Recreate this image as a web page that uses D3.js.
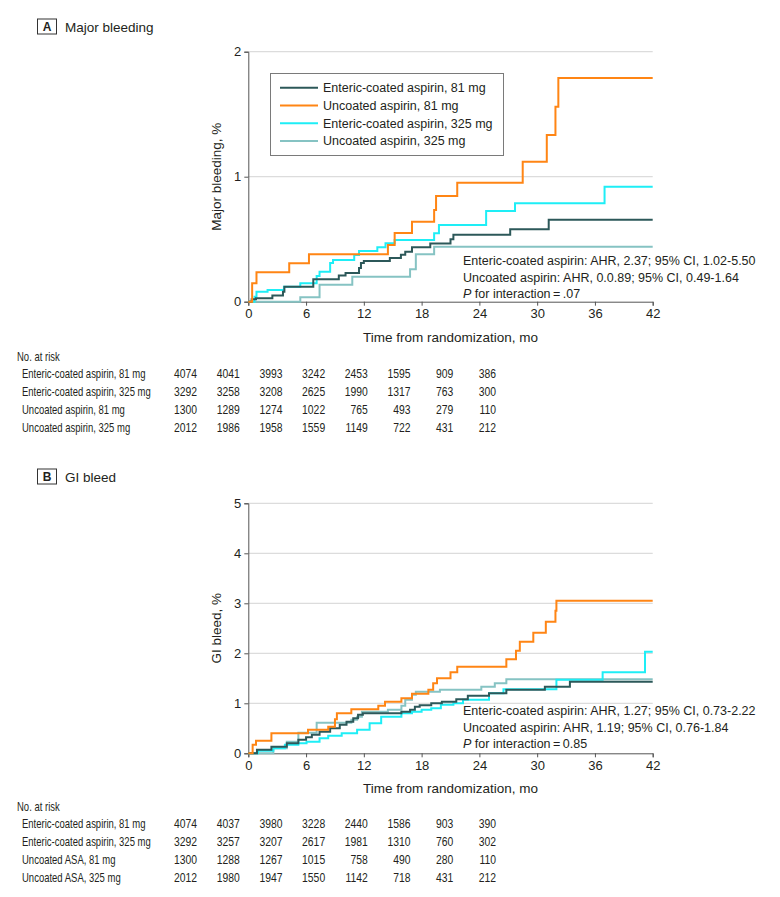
<!DOCTYPE html>
<html>
<head>
<meta charset="utf-8">
<script src="https://cdn.jsdelivr.net/npm/d3@7"></script>
<style>
  html, body { margin: 0; padding: 0; background: #fff; }
  svg { display: block; }
</style>
</head>
<body>
<div id="chart"></div>
<script>
// Aspirin formulation: cumulative incidence of bleeding (D3)

const months = [0, 6, 12, 18, 24, 30, 36, 42];
const seriesNames = ['Enteric-coated aspirin, 81 mg', 'Uncoated aspirin, 81 mg',
  'Enteric-coated aspirin, 325 mg', 'Uncoated aspirin, 325 mg'];
const seriesColors = ['#2c5859', '#ff8514', '#1eeef6', '#86c3c3'];

// Panel A: major bleeding, [month, %]
const majorEc81 = [[0,0],[0.35,0.02],[0.8,0.027],[2.5,0.05],[3.6,0.08],[3.75,0.12],[6.75,0.18],[9.4,0.21],[10.1,0.23],[11.5,0.27],[11.7,0.31],[12.0,0.325],[14.7,0.35],[15.85,0.375],[16.3,0.4],[17.0,0.435],[18.9,0.465],[21.0,0.5],[21.3,0.535],[27.2,0.58],[31.2,0.655],[42,0.655]];
const majorUc81 = [[0,0],[0.4,0.147],[0.85,0.235],[4.25,0.307],[6.3,0.38],[14.5,0.453],[15.2,0.55],[17.0,0.64],[19.3,0.733],[19.5,0.845],[21.7,0.952],[28.5,1.12],[31.0,1.333],[31.9,1.56],[32.2,1.79],[42,1.79]];
const majorEc325 = [[0,0],[0.65,0.04],[0.85,0.08],[2.0,0.093],[3.7,0.12],[5.4,0.147],[7.1,0.205],[7.4,0.24],[8.5,0.31],[8.8,0.333],[11.0,0.373],[11.5,0.405],[13.4,0.435],[14.25,0.467],[15.2,0.493],[19.3,0.547],[19.8,0.613],[24.7,0.725],[27.7,0.787],[37.0,0.92],[42,0.92]];
const majorUc325 = [[0,0],[5.4,0.035],[7.4,0.135],[10.8,0.2],[16.8,0.26],[17.4,0.38],[19.3,0.44],[42,0.44]];

// Panel B: GI bleed, [month, %]
const giEc81 = [[0,0],[0.9,0.07],[2.4,0.13],[4.0,0.2],[5.2,0.27],[6.0,0.32],[6.6,0.37],[7.4,0.43],[8.5,0.5],[9.5,0.57],[10.2,0.63],[10.9,0.7],[11.4,0.77],[11.9,0.8],[15.9,0.83],[16.8,0.87],[17.3,0.93],[17.8,0.96],[19.0,1.0],[20.1,1.03],[21.6,1.08],[22.8,1.15],[25.0,1.2],[26.8,1.27],[30.8,1.33],[33.4,1.43],[42,1.43]];
const giUc81 = [[0,0],[0.45,0.17],[0.8,0.25],[2.4,0.4],[6.2,0.47],[8.3,0.53],[9.0,0.68],[9.2,0.8],[10.7,0.88],[13.5,0.95],[14.2,1.03],[15.9,1.1],[17.0,1.19],[18.7,1.27],[19.2,1.4],[19.6,1.5],[21.0,1.62],[21.7,1.73],[26.8,1.88],[27.8,2.05],[28.2,2.23],[29.6,2.41],[30.9,2.63],[31.9,2.85],[32.0,3.05],[42,3.05]];
const giEc325 = [[0,0],[1.0,0.05],[2.6,0.1],[3.8,0.17],[5.2,0.2],[6.05,0.23],[7.4,0.3],[8.3,0.35],[9.7,0.4],[11.3,0.47],[12.6,0.6],[13.8,0.73],[15.9,0.8],[17.0,0.83],[18.0,0.87],[19.0,0.9],[20.0,0.97],[21.3,1.0],[22.3,1.07],[25.0,1.2],[26.5,1.28],[32.0,1.47],[36.8,1.62],[41.2,2.03],[42,2.03]];
const giUc325 = [[0,0],[2.6,0.1],[4.0,0.23],[5.2,0.41],[7.1,0.61],[10.7,0.67],[11.3,0.73],[11.8,0.83],[14.5,0.87],[15.9,0.95],[16.3,1.07],[17.0,1.17],[17.4,1.23],[19.9,1.27],[24.2,1.33],[25.6,1.4],[26.8,1.48],[42,1.48]];

// Numbers at risk
const riskLabelsA = ['Enteric-coated aspirin, 81 mg', 'Enteric-coated aspirin, 325 mg', 'Uncoated aspirin, 81 mg', 'Uncoated aspirin, 325 mg'];
const riskA = [
  [4074, 4041, 3993, 3242, 2453, 1595, 909, 386],
  [3292, 3258, 3208, 2625, 1990, 1317, 763, 300],
  [1300, 1289, 1274, 1022, 765, 493, 279, 110],
  [2012, 1986, 1958, 1559, 1149, 722, 431, 212]
];
const riskLabelsB = ['Enteric-coated aspirin, 81 mg', 'Enteric-coated aspirin, 325 mg', 'Uncoated ASA, 81 mg', 'Uncoated ASA, 325 mg'];
const riskB = [
  [4074, 4037, 3980, 3228, 2440, 1586, 903, 390],
  [3292, 3257, 3207, 2617, 1981, 1310, 760, 302],
  [1300, 1288, 1267, 1015, 758, 490, 280, 110],
  [2012, 1980, 1947, 1550, 1142, 718, 431, 212]
];

const statsA = ['Enteric-coated aspirin: AHR, 2.37; 95% CI, 1.02-5.50', 'Uncoated aspirin: AHR, 0.0.89; 95% CI, 0.49-1.64', '.07'];
const statsB = ['Enteric-coated aspirin: AHR, 1.27; 95% CI, 0.73-2.22', 'Uncoated aspirin: AHR, 1.19; 95% CI, 0.76-1.84', '0.85'];

const FONT = "'Liberation Sans', Arial, sans-serif";
const TEXT = '#231f20';
const AXIS = '#555';

const W = 780, H = 897;
const svg = d3.select('#chart').append('svg').attr('width', W).attr('height', H);

const x = d3.scaleLinear().domain([0, 42]).range([248.3, 652.7]);
const col = d3.scalePoint().domain(months).range([197, 496]);

// table in the original is set in a condensed face; none is installed,
// so squeeze horizontally with a transform
const LABEL_SQUEEZE = 0.76, NUM_SQUEEZE = 0.83;

function drawPanel(cfg) {
  const g = svg.append('g');
  const y = d3.scaleLinear().domain([0, cfg.yMax]).range([cfg.y0, cfg.yTop]);
  const yTicks = d3.range(0, cfg.yMax + 1);

  // panel letter + title
  g.append('rect').attr('x', 37.5).attr('y', cfg.titleY - 7.5).attr('width', 19).attr('height', 15)
    .attr('fill', '#fff').attr('stroke', '#333').attr('stroke-width', 1);
  g.append('text').attr('x', 47).attr('y', cfg.titleY + 4.5).attr('text-anchor', 'middle')
    .style('font-family', FONT).style('font-size', '12px').style('font-weight', 'bold').style('fill', TEXT)
    .text(cfg.letter);
  g.append('text').attr('x', 65).attr('y', cfg.titleY + 5)
    .style('font-family', FONT).style('font-size', '13.5px').style('fill', TEXT)
    .text(cfg.title);

  // gridlines
  g.append('g').selectAll('line').data(yTicks.filter(d => d > 0)).enter().append('line')
    .attr('x1', x(0)).attr('x2', x(42)).attr('y1', d => y(d)).attr('y2', d => y(d))
    .attr('stroke', '#dcdcdc').attr('stroke-width', 1.2);

  // axes
  const yAxis = g.append('g').attr('transform', `translate(${x(0)},0)`)
    .call(d3.axisLeft(y).tickValues(yTicks).tickSize(4).tickPadding(3).tickFormat(d3.format('d')));
  const xAxis = g.append('g').attr('transform', `translate(0,${cfg.y0})`)
    .call(d3.axisBottom(x).tickValues(months).tickSize(4).tickPadding(3).tickFormat(d3.format('d')));
  [xAxis, yAxis].forEach(a => {
    a.select('.domain').attr('stroke', AXIS).attr('stroke-width', 1);
    a.selectAll('.tick line').attr('stroke', AXIS);
    a.selectAll('.tick text').style('font-family', FONT).style('font-size', '13px').style('fill', TEXT);
  });

  g.append('text')
    .attr('transform', `translate(216,${(cfg.y0 + cfg.yTop) / 2}) rotate(-90)`)
    .attr('text-anchor', 'middle').attr('dy', '0.35em')
    .style('font-family', FONT).style('font-size', '13.5px').style('fill', TEXT)
    .text(cfg.yLabel);
  g.append('text').attr('x', (x(0) + x(42)) / 2).attr('y', cfg.y0 + 40)
    .attr('text-anchor', 'middle')
    .style('font-family', FONT).style('font-size', '13.5px').style('fill', TEXT)
    .text('Time from randomization, mo');

  // curves
  const line = d3.line().x(d => x(d[0])).y(d => y(d[1])).curve(d3.curveStepAfter);
  const order = [3, 2, 0, 1];
  g.append('g').selectAll('path').data(order).enter().append('path')
    .attr('d', i => line(cfg.series[i]))
    .attr('fill', 'none')
    .attr('stroke', i => seriesColors[i])
    .attr('stroke-width', 2)
    .attr('stroke-linejoin', 'miter');

  // stats annotation
  const ann = g.append('g').style('font-family', FONT).style('font-size', '12.5px').style('fill', TEXT);
  cfg.stats.slice(0, 2).forEach((s, i) => {
    ann.append('text').attr('x', 463).attr('y', cfg.annY + i * 16.5).text(s);
  });
  const p = ann.append('text').attr('x', 463).attr('y', cfg.annY + 33);
  p.append('tspan').style('font-style', 'italic').text('P');
  p.append('tspan').text(' for interaction\u2009=\u2009' + cfg.stats[2]);

  // at-risk table
  const t = g.append('g').style('font-family', FONT).style('font-size', '12.5px').style('fill', TEXT);
  t.append('text')
    .attr('transform', `translate(17,${cfg.tableY + 4.5}) scale(${LABEL_SQUEEZE},1)`)
    .text('No. at risk');
  cfg.riskLabels.forEach((lab, r) => {
    const ry = cfg.tableY + 16.8 + r * 17.9 + 4.5;
    t.append('text')
      .attr('transform', `translate(22,${ry}) scale(${LABEL_SQUEEZE},1)`)
      .text(lab);
    t.append('g').selectAll('text').data(cfg.risk[r]).enter().append('text')
      .attr('transform', (d, i) => `translate(${col(months[i])},${ry}) scale(${NUM_SQUEEZE},1)`)
      .attr('text-anchor', 'end').text(d => d);
  });
  return g;
}

drawPanel({
  letter: 'A', title: 'Major bleeding', titleY: 26.5,
  yMax: 2, y0: 301.7, yTop: 51.7, yLabel: 'Major bleeding, %',
  series: [majorEc81, majorUc81, majorEc325, majorUc325],
  stats: statsA, annY: 265,
  riskLabels: riskLabelsA, risk: riskA, tableY: 356.7
});

drawPanel({
  letter: 'B', title: 'GI bleed', titleY: 476.5,
  yMax: 5, y0: 753.3, yTop: 503.3, yLabel: 'GI bleed, %',
  series: [giEc81, giUc81, giEc325, giUc325],
  stats: statsB, annY: 715,
  riskLabels: riskLabelsB, risk: riskB, tableY: 806.7
});

// legend (panel A)
const leg = svg.append('g');
leg.append('rect').attr('x', 270.5).attr('y', 73.5).attr('width', 233).attr('height', 82)
  .attr('fill', '#fff').attr('stroke', '#7a7a7a').attr('stroke-width', 1);
seriesNames.forEach((name, i) => {
  const ly = 87.7 + i * 17.8;
  leg.append('line').attr('x1', 280).attr('x2', 318).attr('y1', ly).attr('y2', ly)
    .attr('stroke', seriesColors[i]).attr('stroke-width', 2);
  leg.append('text').attr('x', 323).attr('y', ly).attr('dy', '0.35em')
    .style('font-family', FONT).style('font-size', '12.5px').style('fill', TEXT)
    .text(name);
});
</script>
</body>
</html>
